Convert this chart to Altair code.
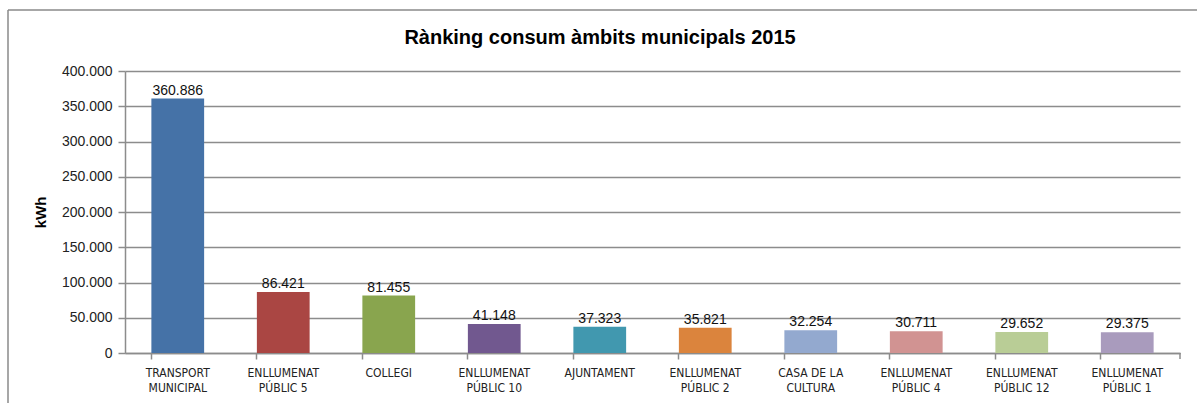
import altair as alt
import pandas as pd

categories = ["TRANSPORT|MUNICIPAL", "ENLLUMENAT|PÚBLIC 5", "COLLEGI", "ENLLUMENAT|PÚBLIC 10",
              "AJUNTAMENT", "ENLLUMENAT|PÚBLIC 2", "CASA DE LA|CULTURA", "ENLLUMENAT|PÚBLIC 4",
              "ENLLUMENAT|PÚBLIC 12", "ENLLUMENAT|PÚBLIC 1"]
values = [360886, 86421, 81455, 41148, 37323, 35821, 32254, 30711, 29652, 29375]
colors = ["#4572A7", "#AA4643", "#89A54E", "#71588F", "#4198AF",
          "#DB843D", "#93A9CF", "#D19392", "#B9CD96", "#A99BBD"]
y_ticks = [0, 50000, 100000, 150000, 200000, 250000, 300000, 350000, 400000]
title_text = "Rànking consum àmbits municipals 2015"

df = pd.DataFrame({"cat": categories, "value": values, "color": colors})

W, H = 1055, 282
GRID = "#8C8C8C"
FONT = "Liberation Sans"

x = alt.X("cat:N", sort=None, title=None,
          scale=alt.Scale(paddingInner=0.5, paddingOuter=0.25),
          axis=alt.Axis(labelExpr="split(datum.label, '|')", labelAngle=0,
                        labelFont="DejaVu Sans Condensed, Liberation Sans", labelFontSize=12,
                        labelColor="#222", labelPadding=8, labelLineHeight=15,
                        bandPosition=0, tickColor=GRID, tickSize=6, tickWidth=1.5,
                        domainColor=GRID, domainWidth=1.5, grid=False))
y = alt.Y("value:Q", title="kWh",
          scale=alt.Scale(domain=[0, 400000], nice=False),
          axis=alt.Axis(values=y_ticks, labelOverlap=False, tickCount=9,
                        labelExpr="replace(format(datum.value, ','), /,/g, '.')",
                        labelFont=FONT, labelFontSize=14, labelColor="#222",
                        labelPadding=6, tickColor=GRID, tickSize=7, tickWidth=1.5,
                        domainColor=GRID, domainWidth=1.5,
                        gridColor=GRID, gridWidth=1.5,
                        titleFont=FONT, titleFontSize=15, titleFontWeight="bold",
                        titleColor="#000", titlePadding=13))

base = alt.Chart(df).encode(x=x, y=y)
bars = base.mark_bar().encode(color=alt.Color("color:N", scale=None))

labels = base.transform_calculate(
    lab="replace(format(datum.value, ','), /,/g, '.')"
).mark_text(font=FONT, fontSize=14, color="#111", baseline="alphabetic", dy=-4).encode(
    text="lab:N")

one = alt.Chart(pd.DataFrame({"t": [title_text]}))
title = one.mark_text(font=FONT, fontSize=20, fontWeight="bold", color="#000",
                      baseline="middle", align="center").encode(
    x=alt.value(475), y=alt.value(-33), text="t:N")

frame = one.mark_rule(color="#8A8A8A", strokeWidth=1.5)
top = frame.encode(x=alt.value(-117), x2=alt.value(1100), y=alt.value(-61))
left = frame.encode(x=alt.value(-117), y=alt.value(-61), y2=alt.value(400))
endtick = one.mark_rule(color=GRID, strokeWidth=1.5).encode(
    x=alt.value(W), y=alt.value(H), y2=alt.value(H + 6))

chart = alt.layer(bars, labels, title, top, left, endtick).properties(
    width=W, height=H,
    autosize=alt.AutoSizeParams(type="none"),
    padding={"left": 125, "top": 71, "right": 17, "bottom": 50},
    background="white",
).configure_view(stroke=None)

chart.save("out.html", embed_options={"renderer": "svg", "actions": False})
